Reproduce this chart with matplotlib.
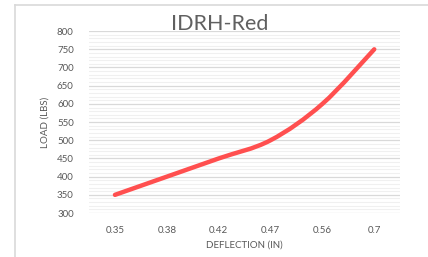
import numpy as np
import matplotlib
matplotlib.use("Agg")
import matplotlib.pyplot as plt
from matplotlib.path import Path
from matplotlib.patches import PathPatch
from matplotlib.lines import Line2D

# Chart data
deflection = ["0.35", "0.38", "0.42", "0.47", "0.56", "0.7"]
load = [350, 400, 450, 500, 600, 750]
y_ticks = [300, 350, 400, 450, 500, 550, 600, 650, 700, 750, 800]

plt.rcParams['font.family'] = ['Lato', 'DejaVu Sans']

TEXT = '#595959'
LINE = '#FF4F4F'

fig = plt.figure(figsize=(4.28, 2.57), dpi=100)
fig.patch.set_facecolor('white')
ax = fig.add_axes([0.208, 0.171, 0.727, 0.708])

# Smoothed line (Catmull-Rom style bezier through the points, like Excel)
x = np.arange(len(load), dtype=float)
y = np.array(load, dtype=float)
verts = [(x[0], y[0])]
codes = [Path.MOVETO]
for i in range(len(x) - 1):
    p0 = (x[i - 1], y[i - 1]) if i > 0 else (x[i], y[i])
    p1 = (x[i], y[i])
    p2 = (x[i + 1], y[i + 1])
    p3 = (x[i + 2], y[i + 2]) if i + 2 < len(x) else (x[i + 1], y[i + 1])
    c1 = (p1[0] + (p2[0] - p0[0]) / 6, p1[1] + (p2[1] - p0[1]) / 6)
    c2 = (p2[0] - (p3[0] - p1[0]) / 6, p2[1] - (p3[1] - p1[1]) / 6)
    verts += [c1, c2, p2]
    codes += [Path.CURVE4] * 3
ax.add_patch(PathPatch(Path(verts, codes), facecolor='none', edgecolor=LINE,
                       linewidth=3.2, capstyle='round', joinstyle='round', zorder=3))

ax.set_xlim(-0.5, len(deflection) - 0.5)
ax.set_ylim(300, 800)
ax.set_xticks(x)
ax.set_xticklabels(deflection)
ax.set_yticks(y_ticks)
ax.set_yticks(np.arange(300, 801, 10), minor=True)

ax.grid(which='major', axis='y', color='#D9D9D9', linewidth=0.9)
ax.grid(which='minor', axis='y', color='#F0F0F0', linewidth=0.8)
ax.set_axisbelow(True)
for s in ax.spines.values():
    s.set_visible(False)
ax.tick_params(axis='both', which='both', length=0, colors=TEXT, labelsize=7)
ax.tick_params(axis='x', pad=9)
ax.tick_params(axis='y', pad=11)

ax.set_xlabel('DEFLECTION (IN)', fontsize=7, color=TEXT, labelpad=4)
ax.set_ylabel('LOAD (LBS)', fontsize=7, color=TEXT, labelpad=5)

fig.text(0.514, 0.905, 'IDRH-Red', ha='center', va='center', fontsize=15.5, color='#606060')

# Chart area border (partially visible)
fig.add_artist(Line2D([15 / 428, 1.0], [1 - 5 / 257, 1 - 5 / 257], color='#D9D9D9', linewidth=1.2))
fig.add_artist(Line2D([15 / 428, 15 / 428], [0, 1 - 5 / 257], color='#D9D9D9', linewidth=1.2))

fig.savefig('out.png', dpi=100, facecolor='white')
